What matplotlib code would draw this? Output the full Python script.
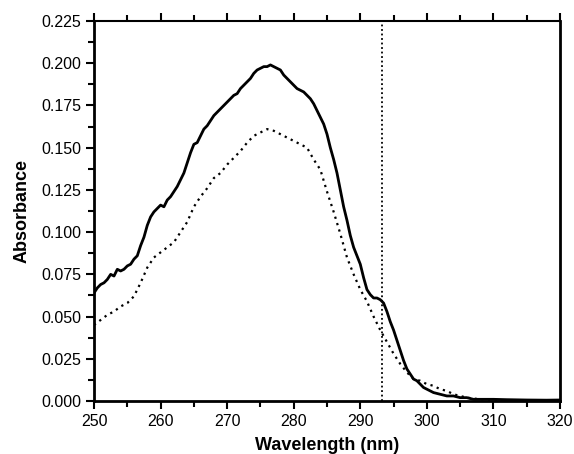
import matplotlib
matplotlib.use('Agg')
from matplotlib import pyplot as plt
from matplotlib.ticker import MultipleLocator

plt.rcParams['font.family'] = ['Liberation Sans', 'DejaVu Sans']

# solid trace
wl_solid = [250, 250.5, 251, 251.5, 252, 252.5, 253, 253.5, 254, 254.5,
            255, 255.5, 256, 256.5, 257, 257.5, 258, 258.5, 259, 259.5,
            260, 260.5, 261, 261.5, 262, 262.5, 263, 263.5, 264, 264.5,
            265, 265.5, 266, 266.5, 267, 267.5, 268, 268.5, 269, 269.5,
            270, 270.5, 271, 271.5, 272, 272.5, 273, 273.5, 274, 274.5,
            275, 275.5, 276, 276.5, 277, 277.5, 278, 278.5, 279, 279.5,
            280, 280.5, 281, 281.5, 282, 282.5, 283, 283.5, 284, 284.5,
            285, 285.5, 286, 286.5, 287, 287.5, 288, 288.5, 289, 289.5,
            290, 290.5, 291, 291.5, 292, 292.5, 293, 293.5, 294, 294.5,
            295, 295.5, 296, 296.5, 297, 297.5, 298, 298.5, 299, 299.5,
            300, 301, 302, 303, 304, 305, 306, 307, 308, 310,
            312, 315, 318, 320]
abs_solid = [0.064, 0.067, 0.069, 0.070, 0.072, 0.075, 0.074, 0.078, 0.077, 0.078,
             0.080, 0.081, 0.084, 0.086, 0.092, 0.097, 0.104, 0.109, 0.112, 0.114,
             0.116, 0.115, 0.119, 0.121, 0.124, 0.127, 0.131, 0.135, 0.141, 0.147,
             0.152, 0.153, 0.157, 0.161, 0.163, 0.166, 0.169, 0.171, 0.173, 0.175,
             0.177, 0.179, 0.181, 0.182, 0.185, 0.187, 0.189, 0.191, 0.194, 0.196,
             0.197, 0.198, 0.198, 0.199, 0.198, 0.197, 0.196, 0.193, 0.191, 0.189,
             0.187, 0.185, 0.184, 0.183, 0.181, 0.179, 0.176, 0.172, 0.168, 0.164,
             0.158, 0.150, 0.143, 0.135, 0.125, 0.115, 0.107, 0.098, 0.091, 0.086,
             0.081, 0.073, 0.066, 0.063, 0.061, 0.061, 0.060, 0.058, 0.053, 0.047,
             0.042, 0.036, 0.030, 0.024, 0.019, 0.016, 0.013, 0.012, 0.010, 0.008,
             0.007, 0.005, 0.004, 0.003, 0.003, 0.002, 0.002, 0.001, 0.001, 0.001,
             0.0008, 0.0006, 0.0005, 0.0006]

# dotted trace
wl_dot = [250, 251, 252, 253, 254, 255, 256, 257, 258, 259,
          260, 261, 262, 263, 264, 265, 266, 267, 268, 269,
          270, 271, 272, 273, 274, 275, 276, 277, 278, 279,
          280, 281, 282, 283, 284, 285, 286, 287, 288, 289,
          290, 291, 292, 293, 294, 295, 296, 297, 298, 299,
          300, 301, 302, 303, 304, 305, 306, 308, 310, 315, 320]
abs_dot = [0.045, 0.048, 0.051, 0.053, 0.056, 0.058, 0.062, 0.070, 0.079, 0.085,
           0.088, 0.091, 0.094, 0.100, 0.106, 0.115, 0.121, 0.126, 0.132, 0.135,
           0.140, 0.144, 0.148, 0.153, 0.157, 0.159, 0.161, 0.160, 0.158, 0.156,
           0.154, 0.152, 0.150, 0.143, 0.137, 0.124, 0.112, 0.099, 0.085, 0.075,
           0.066, 0.059, 0.050, 0.042, 0.035, 0.028, 0.022, 0.017, 0.013, 0.012,
           0.010, 0.009, 0.007, 0.006, 0.004, 0.003, 0.002, 0.001, 0.0005, 0.0, 0.0]

marker_wl = 293.2

fig = plt.figure(figsize=(5.74, 4.54), dpi=100)
ax = fig.add_axes([0.1638, 0.1167, 0.8118, 0.837])

ax.plot(wl_solid, abs_solid, color='black', lw=2)
ax.plot(wl_dot, abs_dot, color='black', lw=1.6, linestyle=(0, (1, 2)))
ax.axvline(marker_wl, color='black', lw=1.3, linestyle=(0, (1, 1.5)))

ax.set_xlim(250, 320)
ax.set_ylim(0, 0.225)
ax.xaxis.set_major_locator(MultipleLocator(10))
ax.xaxis.set_minor_locator(MultipleLocator(5))
ax.yaxis.set_major_locator(MultipleLocator(0.025))
ax.yaxis.set_minor_locator(MultipleLocator(0.0125))
ax.yaxis.set_major_formatter(plt.FormatStrFormatter('%.3f'))

ax.tick_params(which='both', direction='out', top=True, right=False, width=1.5,
               labelsize=11.5, pad=3)
ax.tick_params(which='major', length=6)
ax.tick_params(which='minor', length=4)
for side in ['left', 'bottom', 'right']:
    ax.spines[side].set_linewidth(2)
ax.spines['top'].set_linewidth(1.5)

ax.set_xlabel('Wavelength (nm)', fontsize=13, fontweight='bold', labelpad=6)
ax.set_ylabel('Absorbance', fontsize=13, fontweight='bold', labelpad=8)

fig.savefig('out.png', dpi=100)
